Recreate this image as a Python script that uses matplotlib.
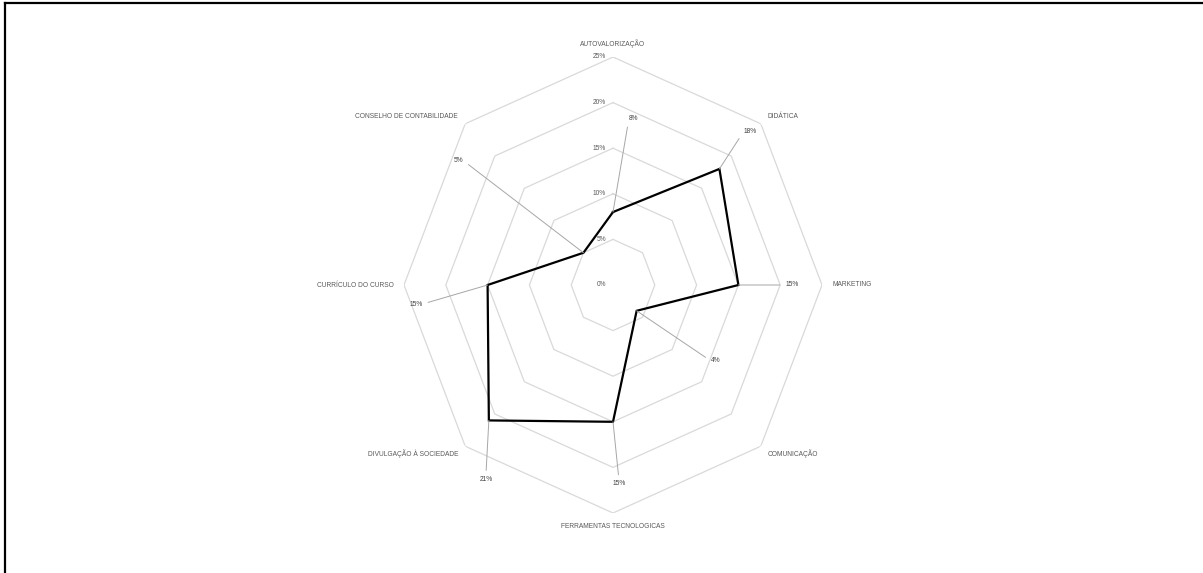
import numpy as np
import matplotlib
matplotlib.use("Agg")
import matplotlib.pyplot as plt
from matplotlib.lines import Line2D

categories = ["AUTOVALORIZAÇÃO", "DIDÁTICA", "MARKETING", "COMUNICAÇÃO",
              "FERRAMENTAS TECNOLOGICAS", "DIVULGAÇÃO À SOCIEDADE",
              "CURRÍCULO DO CURSO", "CONSELHO DE CONTABILIDADE"]
values = [8, 18, 15, 4, 15, 21, 15, 5]
value_labels = ["8%", "18%", "15%", "4%", "15%", "21%", "15%", "5%"]
ring_levels = [0, 5, 10, 15, 20, 25]
ring_labels = ["0%", "5%", "10%", "15%", "20%", "25%"]

# layout: data-label offsets in pixels (dx, dy), alignment, arrow attach point
label_offsets = [(16, 94), (24, 37), (47, 0), (74, -50),
                 (6, -62), (-3, -59), (-65, -19), (-120, 92)]
label_ha = ["left", "left", "left", "left", "center", "center", "right", "right"]
label_relpos = [(0, 0.5), (0, 0.5), (0, 0.5), (0, 0.5),
                (0.5, 1), (0.5, 1), (1, 0.5), (1, 0.5)]
cat_ha = ["center", "left", "left", "left", "center", "right", "right", "right"]

FONT = "Liberation Sans"
W, H = 1203, 573
fig = plt.figure(figsize=(W / 100, H / 100), dpi=100)

cx, cy = 613, 285
rx, ry = 209, 228
ax = fig.add_axes([(cx - rx) / W, (H - cy - ry) / H, 2 * rx / W, 2 * ry / H],
                  projection="polar")
ax.set_aspect("auto")
ax.set_theta_zero_location("N")
ax.set_theta_direction(-1)
ax.set_ylim(0, 25)
ax.grid(False)
ax.set_xticks([])
ax.set_yticks([])
ax.spines["polar"].set_visible(False)
ax.patch.set_visible(False)

n = len(categories)
theta = np.arange(n) * 2 * np.pi / n
theta_closed = np.append(theta, theta[0])

# octagonal grid rings
for lvl in ring_levels[1:]:
    ax.plot(theta_closed, [lvl] * (n + 1), color="#d9d9d9", lw=0.9,
            solid_joinstyle="miter", zorder=1)

# ring labels along top axis
for lvl, lab in zip(ring_levels, ring_labels):
    ax.annotate(lab, xy=(0, lvl), xytext=(-7, 0), textcoords="offset pixels",
                ha="right", va="center", fontsize=4.8, color="#595959",
                family=FONT, annotation_clip=False)

# data polygon
vals_closed = values + [values[0]]
ax.plot(theta_closed, vals_closed, color="black", lw=1.6,
        solid_joinstyle="miter", zorder=3)

# data labels with leader lines
for t, v, lab, off, ha, rp in zip(theta, values, value_labels, label_offsets,
                                   label_ha, label_relpos):
    ax.annotate(lab, xy=(t, v), xytext=off, textcoords="offset pixels",
                ha=ha, va="center", fontsize=4.8, color="#404040", family=FONT,
                annotation_clip=False,
                arrowprops=dict(arrowstyle="-", color="#a6a6a6", lw=0.7,
                                shrinkA=2, shrinkB=0, relpos=rp))

# category labels
for t, cat, ha in zip(theta, categories, cat_ha):
    r = 26.5 if ha == "center" else 26.2
    ax.text(t, r, cat, ha=ha, va="center", fontsize=4.8, color="#595959",
            family=FONT, clip_on=False)

# outer border (left and top edges visible)
fig.add_artist(Line2D([5 / W, 5 / W], [0, 1 - 3 / H], transform=fig.transFigure,
                      color="black", lw=1.6, solid_capstyle="projecting"))
fig.add_artist(Line2D([5 / W, 1], [1 - 3 / H, 1 - 3 / H], transform=fig.transFigure,
                      color="black", lw=1.6, solid_capstyle="projecting"))

fig.savefig("out.png", dpi=100)
